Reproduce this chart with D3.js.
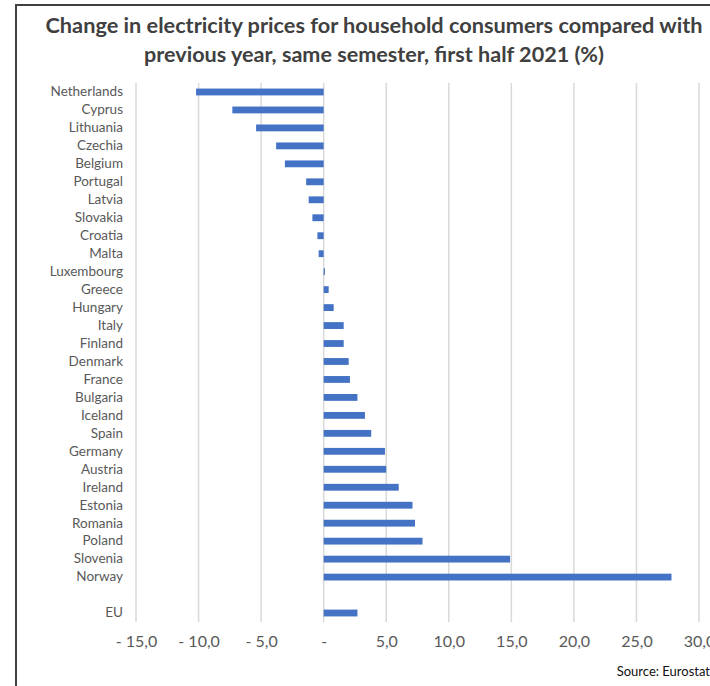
<!DOCTYPE html>
<html>
<head>
<meta charset="utf-8">
<script src="https://cdn.jsdelivr.net/npm/d3@7"></script>
<style>
  body { margin: 0; background: #fff; }
  text { font-family: Lato, "Open Sans", sans-serif; }
</style>
</head>
<body>
<div id="vis"></div>
<script>
var width = 710;
var height = 686;

// countries top to bottom, '' is the empty row before EU
var countries = ['Netherlands', 'Cyprus', 'Lithuania', 'Czechia', 'Belgium', 'Portugal', 'Latvia',
  'Slovakia', 'Croatia', 'Malta', 'Luxembourg', 'Greece', 'Hungary', 'Italy', 'Finland', 'Denmark',
  'France', 'Bulgaria', 'Iceland', 'Spain', 'Germany', 'Austria', 'Ireland', 'Estonia', 'Romania',
  'Poland', 'Slovenia', 'Norway', '', 'EU'];
var changes = [-10.2, -7.3, -5.4, -3.8, -3.1, -1.4, -1.2, -0.9, -0.5, -0.4, 0.1, 0.4, 0.8, 1.6, 1.6, 2.0,
  2.1, 2.7, 3.3, 3.8, 4.9, 5.0, 6.0, 7.1, 7.3, 7.9, 14.9, 27.8, null, 2.7];
var xTicks = [-15, -10, -5, 0, 5, 10, 15, 20, 25, 30];

var titleLines = ['Change in electricity prices for household consumers compared with',
  'previous year, same semester, first half 2021 (%)'];

var xScale = d3.scaleLinear().domain([-15, 30]).range([136, 699]);
var yScale = d3.scaleBand().domain(countries).range([83, 622]).paddingInner(0.62).paddingOuter(0.31);

function tickLabel(d) {
  if (d === 0) return '-';
  var s = Math.abs(d).toFixed(1).replace('.', ',');
  return d < 0 ? '- ' + s : s;
}

var svg = d3.select('#vis').append('svg')
    .attr('width', width)
    .attr('height', height);

// frame
svg.append('path')
  .attr('d', 'M16,' + height + 'V5H' + width)
  .attr('fill', 'none')
  .attr('stroke', '#404040')
  .attr('stroke-width', 2);

svg.append('g')
  .selectAll('text')
  .data(titleLines)
  .enter()
  .append('text')
  .attr('x', 374)
  .attr('y', function(d, i) { return 33 + i * 29; })
  .attr('text-anchor', 'middle')
  .attr('font-size', 20)
  .attr('font-weight', 'bold')
  .attr('fill', '#404040')
  .attr('textLength', function(d, i) { return i === 0 ? 657 : 460; })
  .attr('lengthAdjust', 'spacingAndGlyphs')
  .text(function(d) { return d; });

// gridlines
svg.append('g')
  .selectAll('line')
  .data(xTicks)
  .enter()
  .append('line')
  .attr('x1', function(d) { return xScale(d); })
  .attr('x2', function(d) { return xScale(d); })
  .attr('y1', 83)
  .attr('y2', 622)
  .attr('stroke', '#d9d9d9')
  .attr('stroke-width', 1.5);

// bars
svg.append('g')
  .selectAll('rect')
  .data(countries.filter(function(c, i) { return changes[i] !== null; }))
  .enter()
  .append('rect')
  .attr('x', function(d) { return xScale(Math.min(0, changes[countries.indexOf(d)])); })
  .attr('y', function(d) { return yScale(d); })
  .attr('width', function(d) { return Math.abs(xScale(changes[countries.indexOf(d)]) - xScale(0)); })
  .attr('height', yScale.bandwidth())
  .attr('fill', '#4472c4');

// country labels
var yAxis = d3.axisLeft(yScale).tickSize(0).tickPadding(0);
var yg = svg.append('g')
  .attr('transform', 'translate(123,0)')
  .call(yAxis);
yg.select('.domain').remove();
yg.selectAll('text')
  .attr('font-family', 'Lato, sans-serif')
  .attr('font-size', 13.5)
  .attr('fill', '#595959');

// x axis labels
var xAxis = d3.axisBottom(xScale).tickValues(xTicks).tickSize(0).tickPadding(0).tickFormat(tickLabel);
var xg = svg.append('g')
  .attr('transform', 'translate(0,636)')
  .call(xAxis);
xg.select('.domain').remove();
xg.selectAll('text')
  .attr('font-family', 'Lato, sans-serif')
  .attr('font-size', 16)
  .attr('fill', '#595959');

svg.append('text')
  .attr('x', 710)
  .attr('y', 676)
  .attr('text-anchor', 'end')
  .attr('font-size', 13)
  .attr('fill', '#111')
  .text('Source: Eurostat');
</script>
</body>
</html>
